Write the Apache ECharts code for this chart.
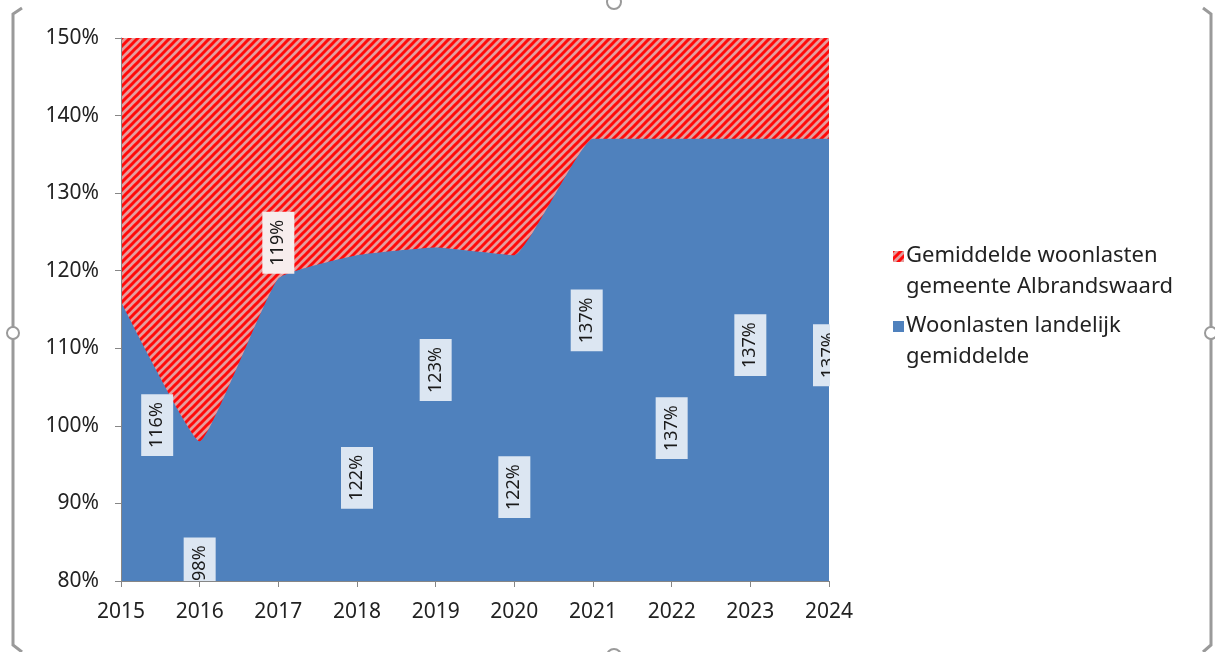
<!DOCTYPE html>
<html>
<head>
<meta charset="utf-8">
<script src="https://cdn.jsdelivr.net/npm/echarts@6/dist/echarts.min.js"></script>
<style>
html,body{margin:0;padding:0;background:#fff;}
#c{width:1215px;height:652px;}
</style>
</head>
<body>
<div id="c"></div>
<script>
// ---- data ----
var years = [2015, 2016, 2017, 2018, 2019, 2020, 2021, 2022, 2023, 2024];
var landelijk = [116, 98, 119, 122, 123, 122, 137, 137, 137, 137];
var albrandswaardTop = [150, 150, 150, 150, 150, 150, 150, 150, 150, 150];
var labelX = [2015.46, 2016, 2017, 2018, 2019, 2020, 2020.92, 2022, 2023, 2024];
var labelY = [100.1, 82.3, 123.6, 93.3, 107.2, 92.1, 113.6, 99.7, 110.4, 109.1];
var yTicks = [80, 90, 100, 110, 120, 130, 140, 150];
var seriesNames = ['Gemiddelde woonlasten\ngemeente Albrandswaard', 'Woonlasten landelijk\ngemiddelde'];

// ---- hatch pattern ----
function makeHatch() {
  var c = document.createElement('canvas');
  c.width = 8; c.height = 8;
  var g = c.getContext('2d');
  g.fillStyle = '#e59c9c';
  g.fillRect(0, 0, 8, 8);
  g.strokeStyle = '#ff0a0a';
  g.lineWidth = 3;
  g.lineCap = 'square';
  [[-2, 2, 2, -2], [-1, 9, 9, -1], [6, 10, 10, 6]].forEach(function (l) {
    g.beginPath(); g.moveTo(l[0], l[1]); g.lineTo(l[2], l[3]); g.stroke();
  });
  return c;
}
var hatch = { image: makeHatch(), repeat: 'repeat' };
var blue = '#4f81bd';
var FONT = 'Noto Sans';

function interpBlue(x) {
  for (var i = 0; i < years.length - 1; i++) {
    if (x >= years[i] && x <= years[i + 1]) {
      var t = (x - years[i]) / (years[i + 1] - years[i]);
      return landelijk[i] + t * (landelijk[i + 1] - landelijk[i]);
    }
  }
  return landelijk[landelijk.length - 1];
}

var chart = echarts.init(document.getElementById('c'));
var option = {
  backgroundColor: '#ffffff',
  animation: false,
  grid: { left: 121, right: 386, top: 38, bottom: 71, containLabel: false },
  xAxis: {
    type: 'value', min: years[0], max: years[years.length - 1], interval: 1, z: 10,
    splitLine: { show: false },
    axisLine: { show: true, onZero: false, lineStyle: { color: '#868686', width: 1 } },
    axisTick: { show: true, length: 6, lineStyle: { color: '#868686' } },
    axisLabel: { color: '#222', fontFamily: FONT, fontSize: 21, margin: 21,
      formatter: function (v) { return String(v); } }
  },
  yAxis: {
    type: 'value', min: yTicks[0], max: yTicks[yTicks.length - 1], interval: 10, z: 10,
    splitLine: { show: false },
    axisLine: { show: true, lineStyle: { color: '#868686', width: 1 } },
    axisTick: { show: true, length: 6, lineStyle: { color: '#868686' } },
    axisLabel: { color: '#222', fontFamily: FONT, fontSize: 21, margin: 22,
      formatter: function (v) { return v + '%'; } }
  },
  series: [
    {
      name: seriesNames[0], type: 'line', z: 1,
      data: years.map(function (y, i) { return [y, albrandswaardTop[i]]; }),
      symbol: 'none', lineStyle: { width: 0 },
      areaStyle: { color: hatch, opacity: 1, origin: 'start' },
      clip: true
    },
    {
      name: seriesNames[1], type: 'line', z: 2,
      data: years.map(function (y, i) { return [y, landelijk[i]]; }),
      symbol: 'none', smooth: 0.12, lineStyle: { width: 0 },
      areaStyle: { color: blue, opacity: 1, origin: 'start' },
      clip: true
    },
    {
      type: 'scatter', z: 4, symbolSize: 0, silent: true,
      itemStyle: { opacity: 1 },
      data: labelX.map(function (x, i) {
        var overRed = labelY[i] > interpBlue(x);
        return {
          value: [x, labelY[i], landelijk[i]],
          label: { backgroundColor: overRed ? '#f7eded' : '#dce6f2' }
        };
      }),
      label: {
        show: true, position: 'inside', rotate: 90,
        formatter: function (p) { return p.value[2] + '%'; },
        fontFamily: FONT, fontSize: 18, color: '#1a1a1a',
        backgroundColor: '#dce6f2',
        padding: [5, 8, 5, 8], lineHeight: 22
      }
    }
  ],
  graphic: [
    // clip data labels to plot area
    { type: 'rect', z: 5, shape: { x: 830, y: 30, width: 40, height: 552 }, style: { fill: '#fff' } },
    { type: 'rect', z: 5, shape: { x: 100, y: 582, width: 740, height: 14 }, style: { fill: '#fff' } },
    // legend
    { type: 'rect', z: 6, shape: { x: 893, y: 251, width: 11, height: 11 }, style: { fill: hatch } },
    { type: 'text', z: 6, left: 906, top: 240, style: { text: seriesNames[0], fontFamily: FONT, fontSize: 22, lineHeight: 31, fill: '#222' } },
    { type: 'rect', z: 6, shape: { x: 893, y: 321, width: 11, height: 11 }, style: { fill: blue } },
    { type: 'text', z: 6, left: 906, top: 310, style: { text: seriesNames[1], fontFamily: FONT, fontSize: 22, lineHeight: 31, fill: '#222' } },
    // frame
    { type: 'polyline', z: 6, shape: { points: [[22, 8], [13, 14], [13, 645], [22, 652]] }, style: { stroke: '#9a9a9a', lineWidth: 3, fill: null } },
    { type: 'polyline', z: 6, shape: { points: [[1203, 8], [1211, 14], [1211, 645], [1203, 652]] }, style: { stroke: '#9a9a9a', lineWidth: 3, fill: null } },
    { type: 'circle', z: 7, shape: { cx: 13, cy: 333, r: 6 }, style: { fill: '#fff', stroke: '#9a9a9a', lineWidth: 2 } },
    { type: 'circle', z: 7, shape: { cx: 1211, cy: 333, r: 6 }, style: { fill: '#fff', stroke: '#9a9a9a', lineWidth: 2 } },
    { type: 'circle', z: 7, shape: { cx: 614, cy: 2, r: 7 }, style: { fill: '#fff', stroke: '#9a9a9a', lineWidth: 2 } },
    { type: 'circle', z: 7, shape: { cx: 614, cy: 656, r: 7 }, style: { fill: '#fff', stroke: '#9a9a9a', lineWidth: 2 } }
  ]
};
chart.setOption(option);
</script>
</body>
</html>
